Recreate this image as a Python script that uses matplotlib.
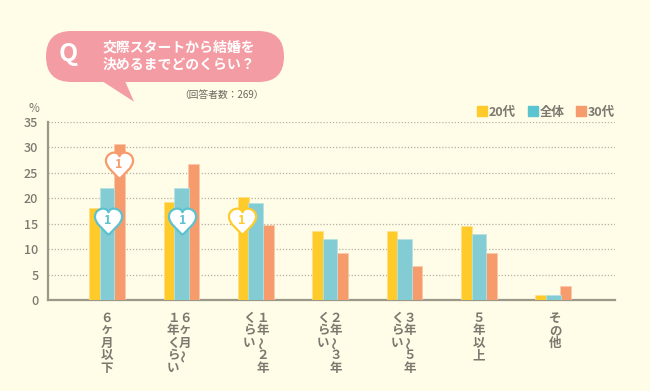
import numpy as np
import matplotlib
matplotlib.use('Agg')
import matplotlib.pyplot as plt
from matplotlib.patches import FancyBboxPatch, Polygon, Patch
from matplotlib.path import Path

plt.rcParams['font.family'] = ['Noto Sans CJK JP', 'DejaVu Sans']

# dados
categories = ['6ヶ月以下', '6ヶ月~1年くらい', '1年~2年くらい', '2年~3年くらい',
              '3年~5年くらい', '5年以上', 'その他']
vals_20 = [18.1, 19.2, 20.3, 13.5, 13.5, 14.5, 1.0]
vals_all = [22, 22, 19, 12, 12, 13, 1.0]
vals_30 = [30.7, 26.7, 14.7, 9.3, 6.7, 9.3, 2.7]
series_names = ['20代', '全体', '30代']
yticks = [0, 5, 10, 15, 20, 25, 30, 35]

# colunas verticais de cada rótulo, da direita para a esquerda
label_columns = [['６ヶ月以下'], ['６ヶ月～', '１年くらい'], ['１年～２年', 'くらい'],
                 ['２年～３年', 'くらい'], ['３年～５年', 'くらい'], ['５年以上'], ['その他']]
label_x = [[106.7], [185, 173], [262.7, 249], [336, 323], [410, 397], [479], [555]]

BG = '#FFFDE7'
YEL = '#FFCB2B'
TEAL = '#84CCD3'
ORG = '#F59B6C'
GREY = '#7C7870'
PINK = '#F49CA3'

W, H = 650, 391
fig = plt.figure(figsize=(W / 100, H / 100), dpi=100, facecolor=BG)

# eixo principal, posicionado em pixels
left, right, top, bottom = 48, 615, 121.7, 300
ax = fig.add_axes([left / W, 1 - bottom / H, (right - left) / W, (bottom - top) / H])
ax.set_facecolor('none')

x = np.arange(len(categories))
ax.bar(x - 0.167, vals_20, 0.145, color=YEL, edgecolor='#FFE08A', linewidth=0.5, zorder=3)
ax.bar(x + 0.168, vals_30, 0.145, color=ORG, edgecolor='#FBC9AC', linewidth=0.5, zorder=3)
ax.bar(x, vals_all, 0.197, color=TEAL, edgecolor='#B5E2E5', linewidth=0.5, zorder=4)

ax.set_xlim(-0.793, 6.83)
ax.set_ylim(0, 35)
ax.set_yticks(yticks)
ax.set_xticks([])
ax.tick_params(axis='y', length=0, labelsize=9, labelcolor=GREY, pad=7)
for lab in ax.get_yticklabels():
    lab.set_fontweight('medium')
ax.grid(axis='y', color='#B4B2A6', linestyle=(0, (1, 1.5)), linewidth=0.9, zorder=1)
ax.set_axisbelow(True)
for s in ['top', 'right']:
    ax.spines[s].set_visible(False)
for s in ['left', 'bottom']:
    ax.spines[s].set_color('#9A9888')
    ax.spines[s].set_linewidth(1.6)

handles = [Patch(color=YEL), Patch(color='#5BC4D1'), Patch(color=ORG)]
ax.legend(handles, series_names, ncol=3, frameon=False, loc='lower right',
          bbox_to_anchor=(1.006, 1.0), borderaxespad=0, borderpad=0.25,
          handlelength=0.8, handleheight=0.8, handletextpad=0.15, columnspacing=0.95,
          labelcolor=GREY, prop={'size': 9, 'weight': 'bold'})

# camada em pixels para balão, rótulos e corações
ov = fig.add_axes([0, 0, 1, 1])
ov.set_xlim(0, W)
ov.set_ylim(H, 0)
ov.axis('off')

ov.add_patch(FancyBboxPatch((71.5, 56.5), 187, 0.01, boxstyle='round,pad=25.5,rounding_size=25.5',
                            facecolor=PINK, edgecolor='none'))
ov.add_patch(Polygon([(102, 81), (134, 101.7), (125, 81)], closed=True, facecolor=PINK, edgecolor='none'))
ov.text(68.5, 54, 'Q', color='white', fontsize=18, fontweight='bold', ha='center', va='center')
ov.text(102.5, 48, '交際スタートから結婚を', color='white', fontsize=10, fontweight='bold', va='center')
ov.text(102.5, 65, '決めるまでどのくらい？', color='white', fontsize=10, fontweight='bold', va='center')
ov.text(222, 95, '（回答者数：269）', color='#6A675F', fontsize=7, ha='center', va='center')
ov.text(33.5, 108, '%', color=GREY, fontsize=8.5, ha='center', va='center')

# rótulos verticais, caractere por caractere
for cols, xs in zip(label_columns, label_x):
    for col, cx in zip(cols, xs):
        for i, ch in enumerate(col):
            rot = 90 if ch == '～' else 0
            ov.text(cx, 318 + i * 12.6, ch, color=GREY, fontsize=9, fontweight='bold',
                    ha='center', va='center', rotation=rot)

# coração
heart = Path(
    [(0, -1.0), (-0.35, -0.6), (-1.0, -0.15), (-1.0, 0.35), (-1.0, 0.8), (-0.6, 0.95), (-0.4, 0.95),
     (-0.2, 0.95), (-0.05, 0.85), (0, 0.68), (0.05, 0.85), (0.2, 0.95), (0.4, 0.95),
     (0.6, 0.95), (1.0, 0.8), (1.0, 0.35), (1.0, -0.15), (0.35, -0.6), (0, -1.0)],
    [Path.MOVETO] + [Path.CURVE4] * 18)

heart_x = [119, 107.7, 182.3, 241.7]
heart_y = [165, 221, 221, 221]
heart_colors = [ORG, '#5CC2CF', '#5CC2CF', YEL]
for hx, hy, hc in zip(heart_x, heart_y, heart_colors):
    ov.plot([hx], [hy], marker=heart, markersize=19.5, markerfacecolor='white',
            markeredgecolor=hc, markeredgewidth=1.6, linestyle='none')
    ov.text(hx, hy - 1, '1', color=hc, fontsize=9, fontweight='bold', ha='center', va='center')

fig.savefig('out.png', dpi=100, facecolor=BG)
